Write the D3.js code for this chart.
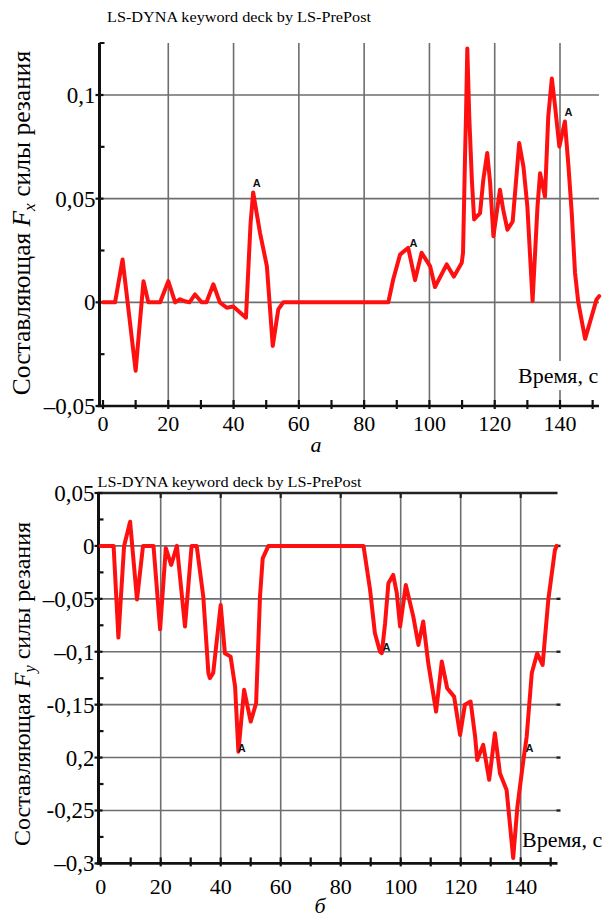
<!DOCTYPE html>
<html>
<head>
<meta charset="utf-8">
<script src="https://cdn.jsdelivr.net/npm/d3@7/dist/d3.min.js"></script>
<style>
  html, body { margin: 0; padding: 0; background: #fff; }
  svg { display: block; }
</style>
</head>
<body>
<svg id="chart" width="610" height="920"></svg>
<script>
// ---------------- DATA ----------------
const xTickValues = [0, 20, 40, 60, 80, 100, 120, 140];
const xTickLabels = ["0", "20", "40", "60", "80", "100", "120", "140"];
const xMinorTicks = [10, 30, 50, 70, 90, 110, 130, 150];

// Panel a: Fx
const fxTime = [0, 3.7, 6.0, 10.0, 12.4, 13.9, 17.5, 20.0, 22.1, 23.6, 25.1, 26.5, 28.2, 30.2, 31.7, 33.8, 35.8, 37.9, 39.9, 43.8,
  45.2, 46.0, 48.1, 50.2, 52.0, 53.7, 55.2, 87.4, 88.9, 91.0, 93.5, 95.6, 97.6, 100.2, 101.7, 105.3, 107.5, 109.9, 110.3,
  110.9, 111.2, 111.6, 112.2, 113.0, 113.7, 115.5, 116.5, 117.7, 118.6, 119.6, 121.6, 122.6, 123.9, 125.5, 127.5, 128.8,
  130.0, 131.6, 133.1, 133.9, 135.4, 136.4, 137.5, 138.5, 139.8, 141.5, 142.6, 143.6, 144.6, 145.6, 147.7, 151.2, 152.0];
const fxValue = [0, 0, 0.0207, -0.033, 0.0102, 0, 0, 0.0102, 0, 0.0015, 0.0005, 0, 0.0038, 0, 0, 0.0087, 0, -0.0026, -0.002, -0.0074,
  0.038, 0.053, 0.0335, 0.0175, -0.021, -0.0034, 0, 0, 0.011, 0.023, 0.0263, 0.0107, 0.0239, 0.0175, 0.0074, 0.0183, 0.0124, 0.0191, 0.024,
  0.070, 0.0896, 0.1224, 0.0896, 0.059, 0.040, 0.043, 0.059, 0.072, 0.0575, 0.0319, 0.0543, 0.0447, 0.035, 0.039, 0.0768, 0.0655,
  0.0463, 0.0006, 0.046, 0.0623, 0.051, 0.0896, 0.108, 0.0944, 0.0751, 0.0872, 0.0655, 0.043, 0.0143, 0, -0.0176, 0.0014, 0.003];
const fxTickValues = [-0.05, 0, 0.05, 0.1];
const fxTickLabels = ["\u20130,05", "0", "0,05", "0,1"];
const fxMinorTicks = [-0.025, 0.025, 0.075];
const fxMarkTime = [47.1, 95.1, 142.6];
const fxMarkValue = [0.0576, 0.0288, 0.092];

// Panel б: Fy
const fyTime = [0, 4.3, 5.9, 7.8, 9.8, 12.1, 14.1, 17.6, 19.8, 21.7, 23.5, 25.4, 28.1, 30.3, 32.0, 34.2, 35.9, 36.4, 37.5, 40.0,
  41.4, 43.3, 44.8, 45.9, 47.8, 50.0, 51.8, 53.1, 54.0, 55.9, 87.6, 89.8, 91.4, 93.1, 93.7, 94.8, 95.9, 97.5, 98.7, 99.8,
  101.7, 104.2, 105.9, 107.5, 109.2, 111.8, 113.7, 115.5, 117.8, 119.8, 121.4, 123.3, 124.8, 125.5, 127.5, 129.5, 131.4,
  133.1, 135.3, 137.5, 138.9, 140.9, 142.0, 143.7, 145.5, 147.3, 149.2, 151.4, 152.0];
const fyValue = [0, 0, -0.0866, 0, 0.0228, -0.0507, 0, 0, -0.0788, -0.002, -0.018, 0, -0.0762, 0, 0, -0.048, -0.1203, -0.125, -0.120, -0.0558,
  -0.1014, -0.1046, -0.133, -0.1944, -0.136, -0.166, -0.1487, -0.048, -0.0117, 0, 0, -0.0416, -0.0825, -0.0999, -0.1014, -0.073, -0.0353, -0.0274, -0.0447, -0.0762,
  -0.0369, -0.0668, -0.0936, -0.0715, -0.111, -0.1566, -0.1093, -0.1345, -0.1424, -0.1786, -0.150, -0.147, -0.18, -0.2023, -0.188, -0.221, -0.177,
  -0.215, -0.2306, -0.295, -0.2464, -0.2023, -0.180, -0.120, -0.1014, -0.1125, -0.051, -0.004, 0];
const fyTickValues = [0.05, 0, -0.05, -0.1, -0.15, -0.2, -0.25, -0.3];
const fyTickLabels = ["0,05", "0", "\u20130,05", "\u20130,1", "-0,15", "0,2", "-0,25", "\u20130,3"];
const fyMinorTicks = [0.025, -0.025, -0.075, -0.125, -0.175, -0.225, -0.275];
const fyMarkTime = [47.0, 95.3, 142.9];
const fyMarkValue = [-0.1912, -0.0958, -0.191];

const headerText = "LS-DYNA keyword deck by LS-PrePost";
const xAxisTitle = "Время, с";

// ---------------- DRAW ----------------
const svg = d3.select("#chart");
const serif = "'Liberation Serif', 'Times New Roman', 'DejaVu Serif', serif";
const gridColor = "#6e6e6e";

function panel(cfg) {
  const x = d3.scaleLinear().domain([0, 140]).range(cfg.xr);
  const y = d3.scaleLinear().domain(cfg.yd).range(cfg.yr);
  const g = svg.append("g");
  const L = cfg.left, R = cfg.right, T = cfg.top, B = y(cfg.yd[0]);

  // horizontal grid
  g.selectAll(".hg").data(cfg.yTicks.filter(v => v !== cfg.yd[0] && !(cfg.topBorder && v === cfg.yd[1])))
    .join("line")
    .attr("x1", L).attr("x2", R).attr("y1", d => y(d)).attr("y2", d => y(d))
    .attr("stroke", gridColor).attr("stroke-width", 1.6);
  // right end dots
  if (cfg.topBorder) {
    g.selectAll(".rd").data(cfg.yTicks.filter(v => v !== cfg.yd[0] && v !== cfg.yd[1]))
      .join("line")
      .attr("x1", R - 1).attr("x2", R + 3).attr("y1", d => y(d)).attr("y2", d => y(d))
      .attr("stroke", "#222").attr("stroke-width", 2.4);
  }
  // vertical grid
  g.selectAll(".vg").data(xTickValues.filter(v => v > 0))
    .join("line")
    .attr("x1", d => x(d)).attr("x2", d => x(d)).attr("y1", T).attr("y2", B)
    .attr("stroke", gridColor).attr("stroke-width", 1.6);

  // top border
  if (cfg.topBorder) {
    g.append("line").attr("x1", L - 1).attr("x2", R).attr("y1", T).attr("y2", T)
      .attr("stroke", "#222").attr("stroke-width", 2.4);
    g.selectAll(".tt").data(xTickValues.filter(v => v > 0))
      .join("line")
      .attr("x1", d => x(d)).attr("x2", d => x(d)).attr("y1", T).attr("y2", T + 5)
      .attr("stroke", "#222").attr("stroke-width", 2.2);
  }

  // x-axis title (optional white background)
  const xbg = g.append("rect").attr("fill", "#fff");
  const xt = g.append("text").attr("x", cfg.xTitleX).attr("y", cfg.xTitleY)
    .attr("font-family", serif).attr("font-size", 22)
    .text(xAxisTitle);
  if (cfg.xTitleBg) {
    const bb = xt.node().getBBox();
    xbg.attr("x", bb.x - 2).attr("y", bb.y - 2).attr("width", bb.width + 4).attr("height", bb.height + 4);
  } else {
    xbg.remove();
  }

  // bottom axis
  const bAxis = g.append("g");
  bAxis.append("line").attr("x1", L - 2).attr("x2", R).attr("y1", B).attr("y2", B)
    .attr("stroke", "#111").attr("stroke-width", 2.6);
  bAxis.selectAll(".bt").data(xTickValues.concat(xMinorTicks).filter(v => x(v) <= R))
    .join("line")
    .attr("x1", d => x(d)).attr("x2", d => x(d)).attr("y1", B - 6).attr("y2", B + 3)
    .attr("stroke", "#111").attr("stroke-width", 2.2);
  bAxis.selectAll(".bl").data(xTickValues)
    .join("text")
    .attr("x", d => x(d)).attr("y", cfg.xLabelY)
    .attr("text-anchor", "middle")
    .attr("font-family", serif).attr("font-size", 22)
    .text((d, i) => xTickLabels[i]);

  // left axis
  const lAxis = g.append("g");
  lAxis.append("line").attr("x1", L).attr("x2", L).attr("y1", T - (cfg.topBorder ? 1 : 0)).attr("y2", B + 1)
    .attr("stroke", "#111").attr("stroke-width", 3);
  if (!cfg.topBorder) {
    lAxis.append("line").attr("x1", L).attr("x2", L + 5).attr("y1", T).attr("y2", T)
      .attr("stroke", "#111").attr("stroke-width", 2);
  }
  lAxis.selectAll(".lt").data(cfg.yTicks)
    .join("line")
    .attr("x1", L - 4).attr("x2", L + 4).attr("y1", d => y(d)).attr("y2", d => y(d))
    .attr("stroke", "#111").attr("stroke-width", 2.2);
  lAxis.selectAll(".lm").data(cfg.yMinor)
    .join("line")
    .attr("x1", L).attr("x2", L + 5).attr("y1", d => y(d)).attr("y2", d => y(d))
    .attr("stroke", "#111").attr("stroke-width", 2.2);
  lAxis.selectAll(".ll").data(cfg.yTicks)
    .join("text")
    .attr("x", L - 4).attr("y", d => y(d) + 8)
    .attr("text-anchor", "end")
    .attr("font-family", serif).attr("font-size", 23)
    .text((d, i) => cfg.yLabels[i]);

  // data line
  const pts = cfg.time.map((t, i) => [t, cfg.value[i]]);
  const line = d3.line().x(d => x(d[0])).y(d => y(d[1])).curve(d3.curveLinear);
  g.append("path").datum(pts)
    .attr("d", line)
    .attr("fill", "none").attr("stroke", "#ff1010").attr("stroke-width", 4)
    .attr("stroke-linejoin", "round").attr("stroke-linecap", "round");

  // markers "A"
  g.selectAll(".mk").data(cfg.markT)
    .join("text")
    .attr("x", d => x(d)).attr("y", (d, i) => y(cfg.markV[i]) + 4)
    .attr("text-anchor", "middle")
    .attr("font-family", "'Liberation Sans', Arial, sans-serif").attr("font-weight", "bold")
    .attr("font-size", 11).attr("fill", "#111")
    .text("A");

  // header
  g.append("text").attr("x", cfg.headerX).attr("y", cfg.headerY)
    .attr("font-family", serif).attr("font-size", 15.5)
    .attr("textLength", 264).attr("lengthAdjust", "spacingAndGlyphs")
    .text(headerText);

  // y-axis title
  const yt = g.append("text")
    .attr("transform", `translate(${cfg.yTitleX},${cfg.yTitleY}) rotate(-90)`)
    .attr("text-anchor", "middle")
    .attr("font-family", serif).attr("font-size", cfg.yTitleSize);
  yt.append("tspan").text("Составляющая ");
  yt.append("tspan").attr("font-style", "italic").text("F");
  yt.append("tspan").attr("font-style", "italic").attr("font-size", cfg.yTitleSize * 0.68).attr("dy", 5).text(cfg.sub);
  yt.append("tspan").attr("dy", -5).text(" силы резания");

  // panel caption
  g.append("text").attr("x", cfg.capX).attr("y", cfg.capY)
    .attr("text-anchor", "middle")
    .attr("font-family", serif).attr("font-style", "italic").attr("font-size", 22)
    .text(cfg.caption);
}

panel({
  time: fxTime, value: fxValue,
  xr: [103, 560], yd: [-0.05, 0.1], yr: [406, 95],
  left: 99.5, right: 599, top: 43,
  yTicks: fxTickValues, yLabels: fxTickLabels, yMinor: fxMinorTicks,
  markT: fxMarkTime, markV: fxMarkValue,
  topBorder: false, xTitleBg: true,
  xLabelY: 431, headerX: 107, headerY: 21.5,
  xTitleX: 518, xTitleY: 383,
  yTitleX: 30, yTitleY: 223, yTitleSize: 25.5, sub: "x",
  capX: 316, capY: 452, caption: "a"
});

panel({
  time: fyTime, value: fyValue,
  xr: [100.7, 520.7], yd: [-0.3, 0.05], yr: [863.4, 493],
  left: 98.5, right: 557.5, top: 493,
  yTicks: fyTickValues, yLabels: fyTickLabels, yMinor: fyMinorTicks,
  markT: fyMarkTime, markV: fyMarkValue,
  topBorder: true, xTitleBg: false,
  xLabelY: 894, headerX: 97.5, headerY: 486.5,
  xTitleX: 522, xTitleY: 847,
  yTitleX: 30, yTitleY: 684, yTitleSize: 24, sub: "y",
  capX: 320, capY: 913, caption: "б"
});
</script>
</body>
</html>
